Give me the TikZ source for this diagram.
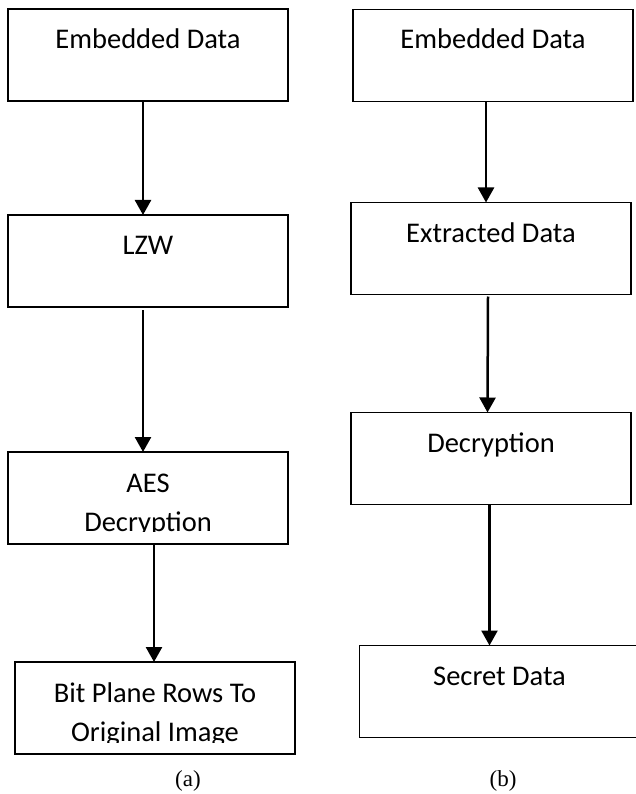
\documentclass[tikz,border=0pt]{standalone}
\usepackage{fontspec}
\setmainfont{Carlito}
\newfontfamily\subfont{Liberation Serif}
\usetikzlibrary{arrows.meta,positioning}
\tikzset{
flow/.style={x=1pt,y=1pt,>={Triangle[width=16pt,length=15pt]}},
stage/.style={rectangle,draw,line width=1.5pt,minimum width=280pt,
    minimum height=92pt,inner sep=0pt,outer sep=0pt,align=center,
    text height=39.5pt,text depth=52.5pt,
    font=\fontsize{28.5}{39}\selectfont},
stage two/.style={stage,text height=79pt,text depth=13pt},
flowarrow/.style={->,line width=2.5pt},
sublabel/.style={anchor=base,inner sep=0pt,font=\subfont\fontsize{23}{27}\selectfont},
}

\begin{document}
\begin{tikzpicture}[flow]
    \useasboundingbox (0,0) rectangle (636,-794);

    % left chain (a)
    \node[stage] (a1) at (148,-55) {Embedded Data};
    \node[stage] (a2) [below=114pt of a1] {LZW};
    \node[stage two] (a3) [below=145pt of a2] {AES\\Decryption};
    \node[stage two] (a4) [below=118pt of a3,xshift=7pt] {Bit Plane Rows To\\Original Image};

    % right chain (b)
    \node[stage] (b1) at (493,-55.5) {Embedded Data};
    \node[stage] (b2) [below=101pt of b1,xshift=-2pt] {Extracted Data};
    \node[stage] (b3) [below=118pt of b2] {Decryption};
    \node[stage] (b4) [below=141pt of b3,xshift=8.5pt] {Secret Data};

    % second lines run past the text area
    \fill[white] ([shift={(1,1)}]a3.south west) rectangle ([shift={(-1,12)}]a3.south east);
    \fill[white] ([shift={(1,1)}]a4.south west) rectangle ([shift={(-1,11)}]a4.south east);

    \draw[flowarrow] ([xshift=-5pt]a1.south) -- ([xshift=-5pt]a2.north);
    \draw[flowarrow] ([shift={(-5,-3)}]a2.south) -- ([xshift=-5pt]a3.north);
    \draw[flowarrow] ([xshift=6pt]a3.south) -- ([xshift=-1pt]a4.north);

    \draw[flowarrow] ([xshift=-7pt]b1.south) -- ([xshift=-5pt]b2.north);
    \draw[flowarrow] ([shift={(-3,-2)}]b2.south) -- ([xshift=-3.5pt]b3.north);
    \draw[flowarrow] ([xshift=-1.5pt]b3.south) -- ([xshift=-10pt]b4.north);

    \node[sublabel] (capa) at (188,-786) {(a)};
    \node[sublabel] (capb) at (503,-786) {(b)};
\end{tikzpicture}
\end{document}
